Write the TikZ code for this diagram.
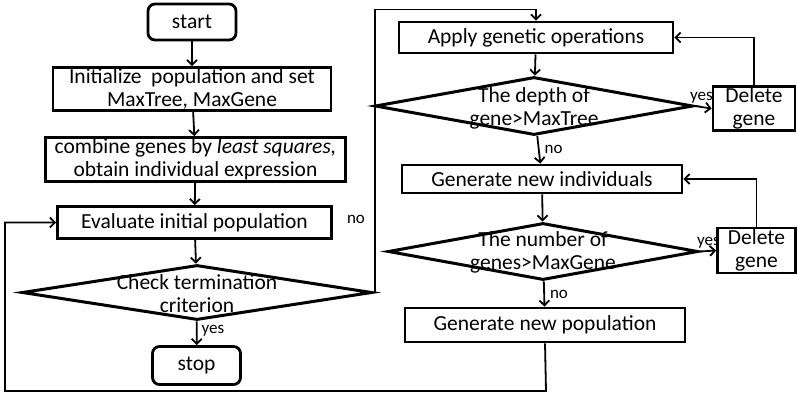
\documentclass[tikz,border=0pt]{standalone}
\usepackage{fontspec}
\setmainfont{Carlito}
\usetikzlibrary{arrows.meta,shapes.geometric}
\begin{document}
\begin{tikzpicture}[x=1pt,y=-1pt,
  txt/.style={font=\fontsize{21.5}{23}\selectfont, align=center, inner sep=0pt},
  small/.style={font=\fontsize{17}{19}\selectfont, inner sep=0pt},
  box/.style={draw, line width=2.8pt, inner sep=0pt, txt},
  term/.style={box, rounded corners=7pt},
  dec/.style={draw, diamond, line width=3pt, inner sep=0pt},
  flow/.style={line width=1.8pt, -{Straight Barb[length=5pt,width=10pt,line width=1.8pt]}},
  wire/.style={line width=1.8pt}]
\useasboundingbox (0,0) rectangle (797,400);

% left column
\node[term, minimum width=88, minimum height=36] (start) at (192,22) {start};
\node[box, minimum width=278, minimum height=43] (init) at (192,89)
  {Initialize\ \ population and set\\MaxTree, MaxGene};
\node[box, minimum width=300, minimum height=44] (comb) at (195.5,159.5)
  {combine genes by \textit{least squares,}\\obtain individual expression};
\node[box, minimum width=274, minimum height=32] (eval) at (194.5,222.5)
  {Evaluate initial population};
\node[dec, minimum width=350, minimum height=55] (check) at (197,292.5) {};
\node[txt] (checkt) at (197,294) {Check termination\\criterion};
\node[term, minimum width=88, minimum height=38] (stop) at (196.5,365.5) {stop};

% right column
\node[box, minimum width=274, minimum height=31] (apply) at (536,37.5)
  {Apply genetic operations};
\node[dec, minimum width=318, minimum height=58] (depth) at (534,106) {};
\node[txt] (deptht) at (534,108) {The depth of\\gene>MaxTree};
\node[box, minimum width=82, minimum height=44] (del1) at (754,108.5)
  {Delete\\gene};
\node[box, minimum width=280, minimum height=28] (indiv) at (542,179)
  {Generate new individuals};
\node[dec, minimum width=310, minimum height=57] (num) at (543,251.5) {};
\node[txt] (numt) at (543,252.5) {The number of\\genes>MaxGene};
\node[box, minimum width=78, minimum height=45] (del2) at (756.5,250.5)
  {Delete\\gene};
\node[box, minimum width=280, minimum height=34] (newpop) at (545,325)
  {Generate new population};

% helper corners for the routed connectors
\coordinate (c1) at (375,292.5);
\coordinate (c2) at (375,9.5);
\coordinate (c3) at (546,391);
\coordinate (c4) at (5,391);
\coordinate (c5) at (5,222.5);

% connectors
\draw[flow] (start) -- (init);
\draw[flow] (init) -- (comb);
\draw[flow] (comb) -- (eval);
\draw[flow] (eval) -- (check);
\draw[flow] (check) -- node[small, right=4pt, pos=0.4] (yes0) {yes} (stop);
\draw[flow] (check.east) -- (c1) -- (c2) -| (apply.north);
\node[small] (no0) at (356,219) {no};

\draw[flow] (apply) -- (depth);
\draw[flow] (depth.east) -- (del1.west);
\node[small, anchor=south east] (yes1) at (713,103) {yes};
\draw[flow] (del1.north) |- (apply.east);
\draw[flow] (depth) -- node[small, right=5pt] (no1) {no} (indiv);

\draw[flow] (indiv) -- (num);
\draw[flow] (num.east) -- (del2.west);
\node[small, anchor=south east] (yes2) at (720,248) {yes};
\draw[flow] (del2.north) |- (indiv.east);
\draw[flow] (num) -- node[small, right=5pt] (no2) {no} (newpop);

\draw[flow] (newpop.south) -- (c3) -- (c4) -- (c5) -- (eval.west);
\end{tikzpicture}
\end{document}
